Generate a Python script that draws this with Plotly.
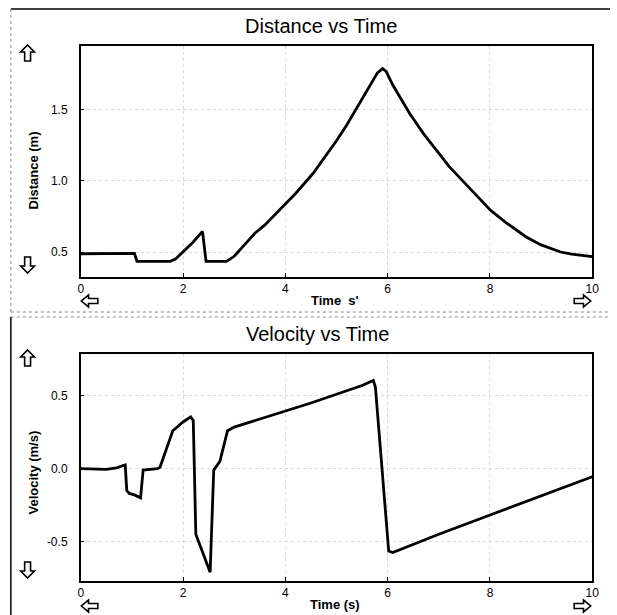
import plotly.graph_objects as go

# ---- data ----
dist_t = [0.0, 1.0, 1.05, 1.1, 1.75, 1.85, 2.0, 2.2, 2.38, 2.45, 2.85, 3.0, 3.2, 3.4, 3.6,
          4.0, 4.2, 4.54, 4.8, 5.0, 5.2, 5.45, 5.7, 5.8, 5.9, 5.97, 6.1, 6.43, 6.7, 6.96,
          7.2, 7.49, 7.8, 8.02, 8.3, 8.7, 9.0, 9.38, 9.6, 10.0]
dist_m = [0.488, 0.488, 0.49, 0.435, 0.435, 0.45, 0.50, 0.57, 0.645, 0.435, 0.435, 0.47, 0.55, 0.63, 0.69,
          0.84, 0.91, 1.05, 1.18, 1.28, 1.39, 1.54, 1.69, 1.755, 1.785, 1.765, 1.67, 1.47, 1.33, 1.21,
          1.10, 0.99, 0.87, 0.79, 0.71, 0.607, 0.55, 0.50, 0.485, 0.467]

vel_t = [0.0, 0.3, 0.5, 0.7, 0.8, 0.87, 0.9, 0.95, 1.05, 1.17, 1.22, 1.5, 1.55, 1.8, 2.0, 2.15,
         2.2, 2.25, 2.53, 2.6, 2.72, 2.87, 3.0, 3.5, 4.0, 4.5, 5.0, 5.5, 5.72, 5.76, 6.02, 6.1,
         7.0, 8.0, 9.0, 10.0]
vel_ms = [0.0, 0.0, -0.005, 0.005, 0.015, 0.025, -0.15, -0.17, -0.18, -0.2, -0.01, 0.0, 0.01, 0.26, 0.32, 0.355,
          0.33, -0.45, -0.71, -0.01, 0.05, 0.26, 0.285, 0.34, 0.39, 0.45, 0.51, 0.57, 0.605, 0.56, -0.565, -0.575,
          -0.45, -0.32, -0.19, -0.055]

x_ticks = [0, 2, 4, 6, 8, 10]
x_tick_labels = ["0", "2", "4", "6", "8", "10"]
d_ticks = [0.5, 1.0, 1.5]
d_tick_labels = ["0.5", "1.0", "1.5"]
v_ticks = [-0.5, 0.0, 0.5]
v_tick_labels = ["-0.5", "0.0", "0.5"]

W, H = 617, 615
def px(x): return x / W
def py(y): return 1 - y / H

fig = go.Figure()
fig.add_trace(go.Scatter(x=dist_t, y=dist_m, mode="lines", xaxis="x", yaxis="y",
                         line=dict(color="black", width=2.8), showlegend=False))
fig.add_trace(go.Scatter(x=vel_t, y=vel_ms, mode="lines", xaxis="x2", yaxis="y2",
                         line=dict(color="black", width=2.8), showlegend=False))

tickfont = dict(family="Liberation Sans, Arial, sans-serif", size=12, color="black")
common_x = dict(range=[0, 10], tickvals=x_ticks, ticktext=x_tick_labels, showline=True, mirror=True,
                linecolor="black", linewidth=1.5, ticks="inside", ticklen=4, tickcolor="black",
                showgrid=True, gridcolor="#d8d8d8", griddash="dot", gridwidth=1, zeroline=False,
                tickfont=tickfont, domain=[px(79), px(599)], fixedrange=True)
common_y = dict(showline=True, mirror=True, linecolor="black", linewidth=1.5, ticks="inside",
                ticklen=4, tickcolor="black", showgrid=True, gridcolor="#d8d8d8", griddash="dot",
                gridwidth=1, zeroline=False, tickfont=tickfont, ticklabelstandoff=9, fixedrange=True)

fig.update_layout(
    width=W, height=H, margin=dict(l=0, r=0, t=0, b=0),
    paper_bgcolor="white", plot_bgcolor="white",
    xaxis=dict(**common_x, anchor="y"),
    yaxis=dict(**common_y, range=[0.325, 1.947], tickvals=d_ticks, ticktext=d_tick_labels,
               domain=[py(277), py(45.5)], anchor="x"),
    xaxis2=dict(**common_x, anchor="y2"),
    yaxis2=dict(**common_y, range=[-0.77, 0.786], tickvals=v_ticks, ticktext=v_tick_labels,
                domain=[py(581), py(354)], anchor="x2"),
)

titlefont = dict(family="Liberation Sans, Arial, sans-serif", size=20, color="black")
boldfont = dict(family="Liberation Sans, Arial, sans-serif", size=13, color="black")

ann = []
def A(text, x, y, font, angle=0):
    ann.append(dict(text=text, x=px(x), y=py(y), xref="paper", yref="paper", showarrow=False,
                    font=font, textangle=angle, xanchor="center", yanchor="middle"))

A("Distance vs Time", 323, 26, titlefont)
A("Velocity vs Time", 320, 334, titlefont)
A("<b>Distance (m)</b>", 30, 171, boldfont, -90)
A("<b>Velocity (m/s)</b>", 30, 473, boldfont, -90)
A("<b>Time  s'</b>", 337, 300, boldfont)
A("<b>Time (s)</b>", 337, 604, boldfont)
fig.update_layout(annotations=ann)

shapes = []
def L(x0, y0, x1, y1, color, width, dash="solid"):
    shapes.append(dict(type="line", xref="paper", yref="paper", x0=px(x0), y0=py(y0), x1=px(x1), y1=py(y1),
                       line=dict(color=color, width=width, dash=dash)))
# outer panel frames
L(8, 9, 617, 9, "black", 1.5)
L(8, 9, 8, 312, "#8a8a8a", 1, "dot")
L(8, 312, 617, 312, "#8a8a8a", 1.2, "dot")
L(8, 317, 617, 317, "#8a8a8a", 1.2, "dot")
L(8, 317, 8, 615, "black", 1.5)

# outlined block-arrow icons (decoration of the original software UI)
UP = [(0, -8), (7, -1), (3, -1), (3, 8), (-3, 8), (-3, -1), (-7, -1)]
def arrow(cx, cy, direction):
    pts = []
    for (a, b) in UP:
        if direction == "up":
            x, y = a, b
        elif direction == "down":
            x, y = a, -b
        elif direction == "left":
            x, y = b * 1.05, a * 0.85
        else:
            x, y = -b * 1.05, a * 0.85
        pts.append((cx + x, cy + y))
    path = "M " + " L ".join(f"{px(x):.5f},{py(y):.5f}" for x, y in pts) + " Z"
    shapes.append(dict(type="path", xref="paper", yref="paper", path=path,
                       fillcolor="white", line=dict(color="black", width=1.6)))

for dy in (0, 305):
    arrow(25, 53 + dy, "up")
    arrow(25, 265 + dy, "down")
    arrow(88, 301 + dy, "left")
    arrow(589, 301 + dy, "right")
fig.update_layout(shapes=shapes)

fig.write_html("out.html", config={"displayModeBar": False},
               post_script="document.body.style.margin='0px';document.body.style.overflow='hidden';")
